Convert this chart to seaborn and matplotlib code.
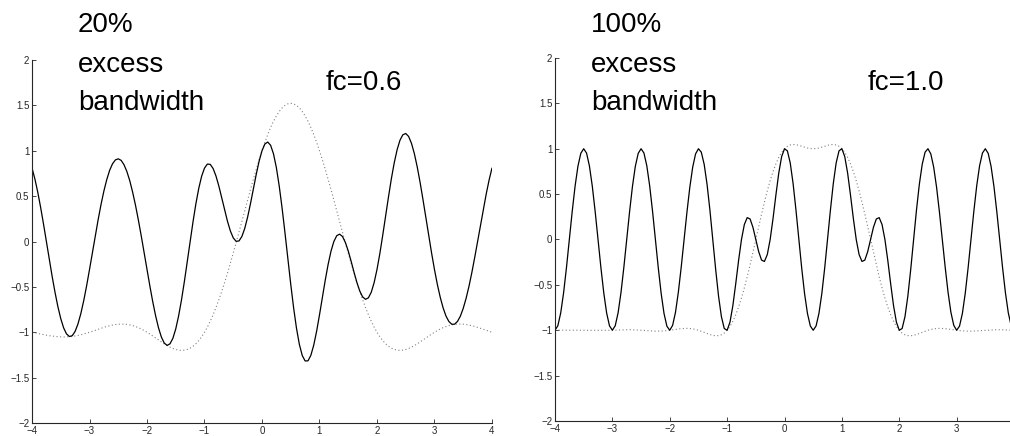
import numpy as np
import matplotlib
matplotlib.use("Agg")
import matplotlib.pyplot as plt
import seaborn as sns

# sample times, step 0.05 from -4 to 4
t = np.round(np.linspace(-4, 4, 161), 2)

# 20% excess bandwidth, fc=0.6: dotted baseband, solid modulated
env_20 = [
    -1.000, -1.006, -1.013, -1.020, -1.026, -1.032, -1.038, -1.042, -1.046, -1.049,
    -1.051, -1.052, -1.051, -1.049, -1.046, -1.041, -1.035, -1.028, -1.019, -1.010,
    -1.000, -0.989, -0.978, -0.967, -0.956, -0.946, -0.936, -0.928, -0.921, -0.915,
    -0.911, -0.910, -0.910, -0.913, -0.919, -0.926, -0.937, -0.949, -0.964, -0.981,
    -1.000, -1.020, -1.041, -1.063, -1.085, -1.107, -1.128, -1.147, -1.164, -1.179,
    -1.190, -1.197, -1.200, -1.197, -1.189, -1.175, -1.154, -1.127, -1.092, -1.050,
    -1.000, -0.943, -0.878, -0.806, -0.727, -0.641, -0.549, -0.451, -0.348, -0.240,
    -0.128, -0.014, 0.103, 0.221, 0.339, 0.457, 0.573, 0.686, 0.796, 0.901,
    1.000, 1.093, 1.179, 1.256, 1.325, 1.384, 1.433, 1.472, 1.500, 1.517,
    1.523, 1.517, 1.500, 1.472, 1.433, 1.384, 1.325, 1.256, 1.179, 1.093,
    1.000, 0.901, 0.796, 0.686, 0.573, 0.457, 0.339, 0.221, 0.103, -0.014,
    -0.128, -0.240, -0.348, -0.451, -0.549, -0.641, -0.727, -0.806, -0.878, -0.943,
    -1.000, -1.050, -1.092, -1.127, -1.154, -1.175, -1.189, -1.197, -1.200, -1.197,
    -1.190, -1.179, -1.164, -1.147, -1.128, -1.107, -1.085, -1.063, -1.041, -1.020,
    -1.000, -0.981, -0.964, -0.949, -0.937, -0.926, -0.919, -0.913, -0.910, -0.910,
    -0.911, -0.915, -0.921, -0.928, -0.936, -0.946, -0.956, -0.967, -0.978, -0.989,
    -1.000,
]
sig_20 = [
    0.809, 0.689, 0.543, 0.375, 0.192, 0.000, -0.195, -0.384, -0.560, -0.718,
    -0.850, -0.952, -1.018, -1.047, -1.038, -0.990, -0.907, -0.792, -0.650, -0.487,
    -0.309, -0.124, 0.061, 0.240, 0.407, 0.556, 0.682, 0.784, 0.856, 0.899,
    0.911, 0.894, 0.846, 0.771, 0.670, 0.544, 0.399, 0.236, 0.061, -0.123,
    -0.309, -0.491, -0.664, -0.819, -0.951, -1.053, -1.119, -1.145, -1.127, -1.067,
    -0.963, -0.819, -0.643, -0.441, -0.223, 0.000, 0.216, 0.415, 0.585, 0.719,
    0.809, 0.853, 0.850, 0.804, 0.721, 0.610, 0.481, 0.348, 0.222, 0.116,
    0.040, 0.002, 0.006, 0.055, 0.144, 0.269, 0.418, 0.579, 0.740, 0.885,
    1.000, 1.074, 1.096, 1.060, 0.966, 0.814, 0.610, 0.366, 0.094, -0.190,
    -0.471, -0.731, -0.956, -1.134, -1.256, -1.316, -1.315, -1.254, -1.142, -0.989,
    -0.809, -0.617, -0.427, -0.253, -0.107, 0.000, 0.064, 0.081, 0.055, -0.010,
    -0.104, -0.217, -0.337, -0.450, -0.545, -0.610, -0.637, -0.621, -0.560, -0.454,
    -0.309, -0.132, 0.069, 0.280, 0.491, 0.691, 0.867, 1.011, 1.116, 1.176,
    1.190, 1.158, 1.082, 0.968, 0.822, 0.651, 0.462, 0.264, 0.065, -0.128,
    -0.309, -0.473, -0.614, -0.731, -0.821, -0.881, -0.912, -0.911, -0.881, -0.823,
    -0.737, -0.626, -0.494, -0.342, -0.175, 0.000, 0.179, 0.356, 0.524, 0.677,
    0.809,
]

# 100% excess bandwidth, fc=1.0
env_100 = [
    -1.000, -0.999, -0.999, -0.999, -0.999, -0.999, -0.999, -0.999, -0.999, -0.999,
    -1.000, -1.001, -1.001, -1.001, -1.001, -1.001, -1.001, -1.001, -1.001, -1.000,
    -1.000, -0.999, -0.997, -0.996, -0.995, -0.994, -0.994, -0.995, -0.996, -0.998,
    -1.000, -1.002, -1.005, -1.007, -1.009, -1.010, -1.010, -1.009, -1.007, -1.004,
    -1.000, -0.995, -0.991, -0.986, -0.982, -0.980, -0.979, -0.981, -0.985, -0.991,
    -1.000, -1.011, -1.023, -1.036, -1.047, -1.056, -1.061, -1.059, -1.050, -1.031,
    -1.000, -0.957, -0.900, -0.829, -0.743, -0.644, -0.533, -0.410, -0.279, -0.141,
    0.000, 0.141, 0.280, 0.412, 0.536, 0.649, 0.749, 0.834, 0.905, 0.960,
    1.000, 1.027, 1.042, 1.047, 1.045, 1.037, 1.027, 1.017, 1.008, 1.002,
    1.000, 1.002, 1.008, 1.017, 1.027, 1.037, 1.045, 1.047, 1.042, 1.027,
    1.000, 0.960, 0.905, 0.834, 0.749, 0.649, 0.536, 0.412, 0.280, 0.141,
    0.000, -0.141, -0.279, -0.410, -0.533, -0.644, -0.743, -0.829, -0.900, -0.957,
    -1.000, -1.031, -1.050, -1.059, -1.061, -1.056, -1.047, -1.036, -1.023, -1.011,
    -1.000, -0.991, -0.985, -0.981, -0.979, -0.980, -0.982, -0.986, -0.991, -0.995,
    -1.000, -1.004, -1.007, -1.009, -1.010, -1.010, -1.009, -1.007, -1.005, -1.002,
    -1.000, -0.998, -0.996, -0.995, -0.994, -0.994, -0.995, -0.996, -0.997, -0.999,
    -1.000,
]
sig_100 = [
    -1.000, -0.950, -0.808, -0.587, -0.309, 0.000, 0.309, 0.587, 0.808, 0.950,
    1.000, 0.952, 0.810, 0.588, 0.309, 0.000, -0.309, -0.588, -0.810, -0.952,
    -1.000, -0.950, -0.807, -0.585, -0.307, 0.000, 0.307, 0.585, 0.806, 0.949,
    1.000, 0.953, 0.813, 0.592, 0.312, 0.000, -0.312, -0.593, -0.815, -0.955,
    -1.000, -0.946, -0.802, -0.580, -0.303, 0.000, 0.303, 0.577, 0.797, 0.943,
    1.000, 0.962, 0.828, 0.609, 0.324, 0.000, -0.328, -0.622, -0.849, -0.981,
    -1.000, -0.910, -0.728, -0.487, -0.230, 0.000, 0.165, 0.241, 0.226, 0.134,
    0.000, -0.134, -0.227, -0.242, -0.166, 0.000, 0.231, 0.490, 0.732, 0.913,
    1.000, 0.977, 0.843, 0.615, 0.323, 0.000, -0.317, -0.598, -0.815, -0.953,
    -1.000, -0.953, -0.815, -0.598, -0.317, 0.000, 0.323, 0.615, 0.843, 0.977,
    1.000, 0.913, 0.732, 0.490, 0.231, 0.000, -0.166, -0.242, -0.227, -0.134,
    0.000, 0.134, 0.226, 0.241, 0.165, 0.000, -0.230, -0.487, -0.728, -0.910,
    -1.000, -0.981, -0.849, -0.622, -0.328, 0.000, 0.324, 0.609, 0.828, 0.962,
    1.000, 0.943, 0.797, 0.577, 0.303, 0.000, -0.303, -0.580, -0.802, -0.946,
    -1.000, -0.955, -0.815, -0.593, -0.312, 0.000, 0.312, 0.592, 0.813, 0.953,
    1.000, 0.949, 0.806, 0.585, 0.307, 0.000, -0.307, -0.585, -0.807, -0.950,
    -1.000,
]

y_ticks = [-2, -1.5, -1, -0.5, 0, 0.5, 1, 1.5, 2]
y_labels = ["\u22122", "\u22121.5", "\u22121", "\u22120.5", "0", "0.5", "1", "1.5", "2"]
x_ticks_left = [-4, -3, -2, -1, 0, 1, 2, 3, 4]
x_ticks_right = [-4, -3, -2, -1, 0, 1, 2, 3]

left_notes = ["20%", "excess", "bandwidth"]
right_notes = ["100%", "excess", "bandwidth"]


def fmt(v):
    return str(v).replace("-", "\u2212")


sns.set_style("ticks")
plt.rcParams["font.family"] = ["Liberation Sans", "DejaVu Sans"]
plt.rcParams["text.color"] = "black"

fig = plt.figure(figsize=(10.1, 4.36), dpi=100)
ax1 = fig.add_axes([0.0317, 0.0298, 0.4554, 0.8326])
ax2 = fig.add_axes([0.5495, 0.0344, 0.4505, 0.8326])

panels = [
    (ax1, env_20, sig_20, x_ticks_left, (-4, 4)),
    (ax2, env_100, sig_100, x_ticks_right, (-4, 3.93)),
]
for ax, env, sig, xt, xl in panels:
    sns.lineplot(x=t, y=env, ax=ax, color="0.5", linestyle=(0, (1, 2.2)),
                 linewidth=0.8)
    sns.lineplot(x=t, y=sig, ax=ax, color="black", linewidth=0.9)
    ax.set_xlim(*xl)
    ax.set_ylim(-2, 2)
    ax.set_xticks(xt)
    ax.set_xticklabels([fmt(v) for v in xt])
    ax.set_yticks(y_ticks)
    ax.set_yticklabels(y_labels)
    ax.set_xlabel("")
    ax.set_ylabel("")
    for side in ["top", "right"]:
        ax.spines[side].set_visible(False)
    for side in ["left", "bottom"]:
        ax.spines[side].set_linewidth(0.8)
        ax.spines[side].set_color("0.15")
    ax.tick_params(direction="in", length=3, width=0.6, labelsize=7,
                   colors="0.15", pad=2)

# annotation text, one line at a time (baselines in pixels from top)
baselines = [32, 71.5, 109.5]
for line, yb in zip(left_notes, baselines):
    fig.text(78 / 1010, 1 - yb / 436, line, fontsize=20, va="baseline", color="black")
for line, yb in zip(right_notes, baselines):
    fig.text(591 / 1010, 1 - yb / 436, line, fontsize=20, va="baseline", color="black")
fig.text(326 / 1010, 1 - 90 / 436, "fc=0.6", fontsize=20, va="baseline", color="black")
fig.text(868 / 1010, 1 - 90 / 436, "fc=1.0", fontsize=20, va="baseline", color="black")

fig.savefig("out.png", dpi=100)
